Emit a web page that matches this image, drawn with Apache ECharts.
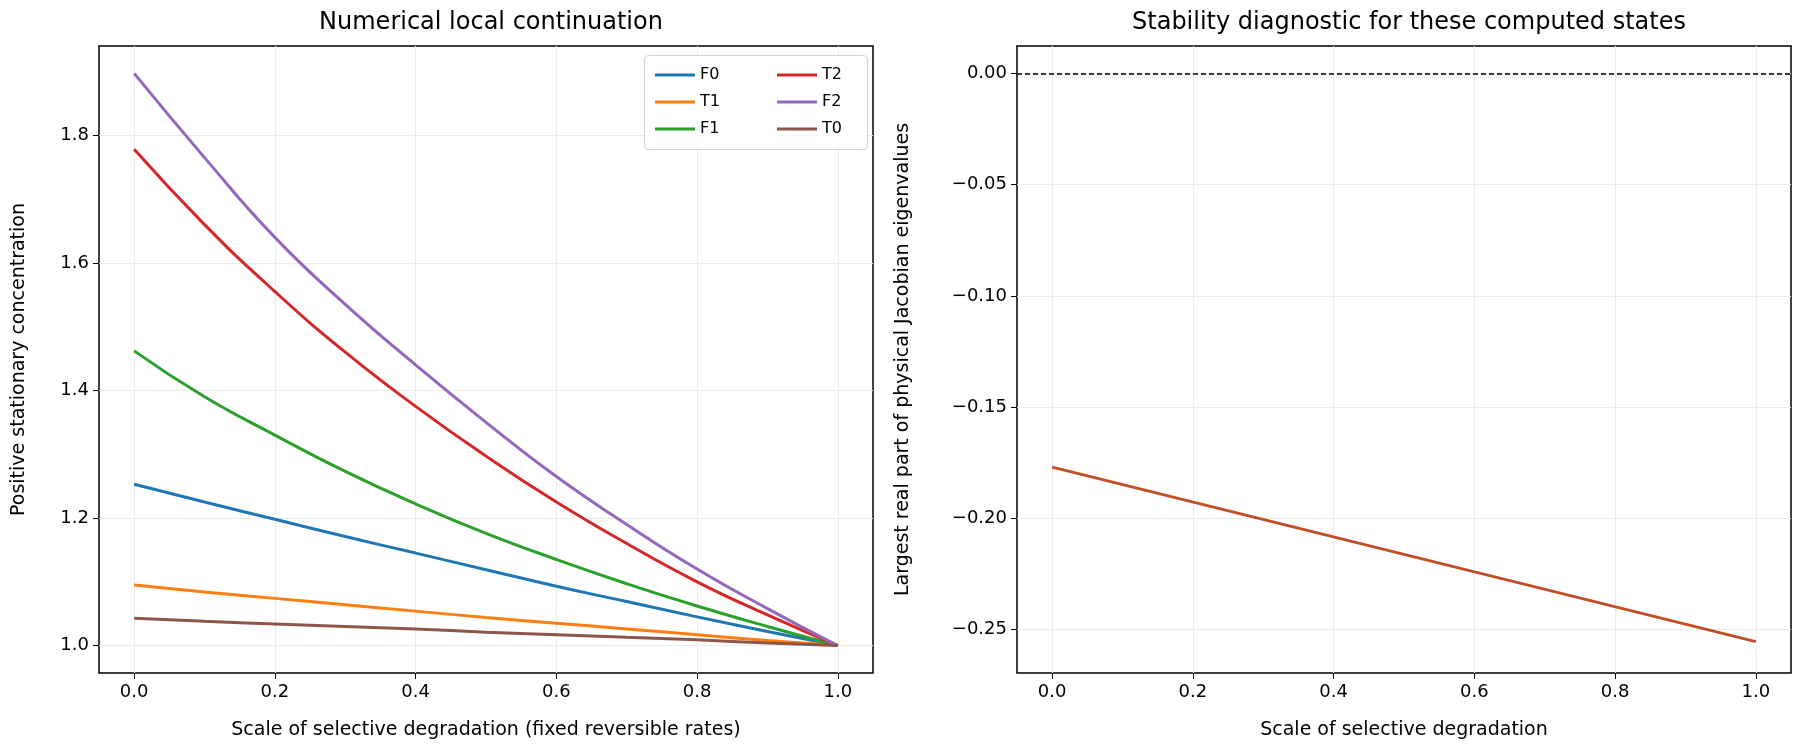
<!DOCTYPE html>
<html>
<head>
<meta charset="utf-8">
<script src="https://cdn.jsdelivr.net/npm/echarts@6/dist/echarts.min.js"></script>
<style>html,body{margin:0;background:#fff}#c{width:1800px;height:756px}</style>
</head>
<body>
<div id="c"></div>
<script>
// x positions of the continuation
var xs = [0, 0.1, 0.2, 0.3, 0.4, 0.5, 0.6, 0.7, 0.8, 0.9, 1.0];
var F0 = [1.253, 1.225, 1.198, 1.171, 1.145, 1.119, 1.093, 1.069, 1.045, 1.022, 1.0];
var T1 = [1.095, 1.084, 1.074, 1.064, 1.054, 1.044, 1.035, 1.026, 1.017, 1.008, 1.0];
var F1 = [1.462, 1.390, 1.330, 1.273, 1.222, 1.176, 1.135, 1.097, 1.062, 1.030, 1.0];
var T2 = [1.778, 1.660, 1.555, 1.460, 1.375, 1.297, 1.225, 1.160, 1.100, 1.048, 1.0];
var F2 = [1.897, 1.765, 1.640, 1.535, 1.440, 1.350, 1.265, 1.190, 1.120, 1.058, 1.0];
var T0 = [1.043, 1.038, 1.034, 1.030, 1.026, 1.021, 1.017, 1.013, 1.009, 1.004, 1.0];
var eigX = [0, 1.0];
var eigY = [-0.177, -0.2555];
// tick labels
var xTicks = [0, 0.2, 0.4, 0.6, 0.8, 1.0];
var yTicksL = [1.0, 1.2, 1.4, 1.6, 1.8];
var yTicksR = [-0.25, -0.20, -0.15, -0.10, -0.05, 0.0];

var names = ['F0', 'T1', 'F1', 'T2', 'F2', 'T0'];
var vals = [F0, T1, F1, T2, F2, T0];
var colors = ['#1f77b4', '#ff7f0e', '#2ca02c', '#d62728', '#9467bd', '#8c564b'];

function pairs(x, y) {
    var res = [];
    for (var i = 0; i < x.length; i++) res.push([x[i], y[i]]);
    return res;
}

var font = 'DejaVu Sans';
var txt = {fontFamily: font, fontSize: 18, color: '#000'};

function axis(type, idx, name, min, max, ticks, gap, fmt) {
    return {
        type: 'value', gridIndex: idx, min: min, max: max,
        name: name, nameLocation: 'middle', nameGap: gap,
        nameTextStyle: {fontFamily: font, fontSize: 19, color: '#000'},
        axisLine: {show: false, onZero: false},
        axisTick: {show: true, length: 6, customValues: ticks, lineStyle: {color: '#000'}},
        axisLabel: Object.assign({margin: 10, customValues: ticks, formatter: fmt}, txt),
        splitLine: {show: true, lineStyle: {color: '#ebebeb'}}
    };
}
function f1(v) { return v.toFixed(1); }
function f2(v) { return v.toFixed(2).replace('-', '\u2212'); }

var series = [];
for (var i = 0; i < names.length; i++) {
    series.push({
        name: names[i], type: 'line', xAxisIndex: 0, yAxisIndex: 0,
        data: pairs(xs, vals[i]), smooth: true, showSymbol: false,
        lineStyle: {width: 3, color: colors[i]}, itemStyle: {color: colors[i]}
    });
}
series.push({
    type: 'line', xAxisIndex: 1, yAxisIndex: 1, data: pairs(eigX, eigY),
    showSymbol: false, lineStyle: {width: 3, color: '#bf5028'},
    markLine: {silent: true, symbol: 'none', label: {show: false},
        lineStyle: {type: [5, 3], color: '#000', width: 1.5}, data: [{yAxis: 0}]}
});

var chart = echarts.init(document.getElementById('c'));
chart.setOption({
    animation: false,
    title: [
        {text: 'Numerical local continuation', left: 486, top: 6, textAlign: 'center',
            textStyle: {fontFamily: font, fontSize: 24, fontWeight: 'normal', color: '#000'}},
        {text: 'Stability diagnostic for these computed states', left: 1404, top: 6, textAlign: 'center',
            textStyle: {fontFamily: font, fontSize: 24, fontWeight: 'normal', color: '#000'}}
    ],
    grid: [
        {left: 99, right: 927, top: 46, bottom: 83, show: true, borderColor: '#000', borderWidth: 1.5, backgroundColor: 'transparent'},
        {left: 1017, right: 9, top: 46, bottom: 83, show: true, borderColor: '#000', borderWidth: 1.5, backgroundColor: 'transparent'}
    ],
    xAxis: [
        axis('x', 0, 'Scale of selective degradation (fixed reversible rates)', -0.05, 1.05, xTicks, 48, f1),
        axis('x', 1, 'Scale of selective degradation', -0.05, 1.05, xTicks, 48, f1)
    ],
    yAxis: [
        axis('y', 0, 'Positive stationary concentration', 0.957, 1.94, yTicksL, 70, f1),
        axis('y', 1, 'Largest real part of physical Jacobian eigenvalues', -0.2696, 0.0124, yTicksR, 104, f2)
    ],
    legend: [
        {data: ['F0', 'T1', 'F1'], orient: 'vertical', left: 650, top: 62, itemGap: 11,
            itemWidth: 40, itemHeight: 3, icon: 'rect', textStyle: {fontFamily: font, fontSize: 16, color: '#000'}},
        {data: ['T2', 'F2', 'T0'], orient: 'vertical', left: 772, top: 62, itemGap: 11,
            itemWidth: 40, itemHeight: 3, icon: 'rect', textStyle: {fontFamily: font, fontSize: 16, color: '#000'}}
    ],
    graphic: [{type: 'rect', left: 644, top: 55, shape: {width: 223, height: 94, r: 4},
        style: {fill: 'rgba(255,255,255,0.8)', stroke: '#d0d0d0', lineWidth: 1}, z: 1}],
    series: series
});
</script>
</body>
</html>
